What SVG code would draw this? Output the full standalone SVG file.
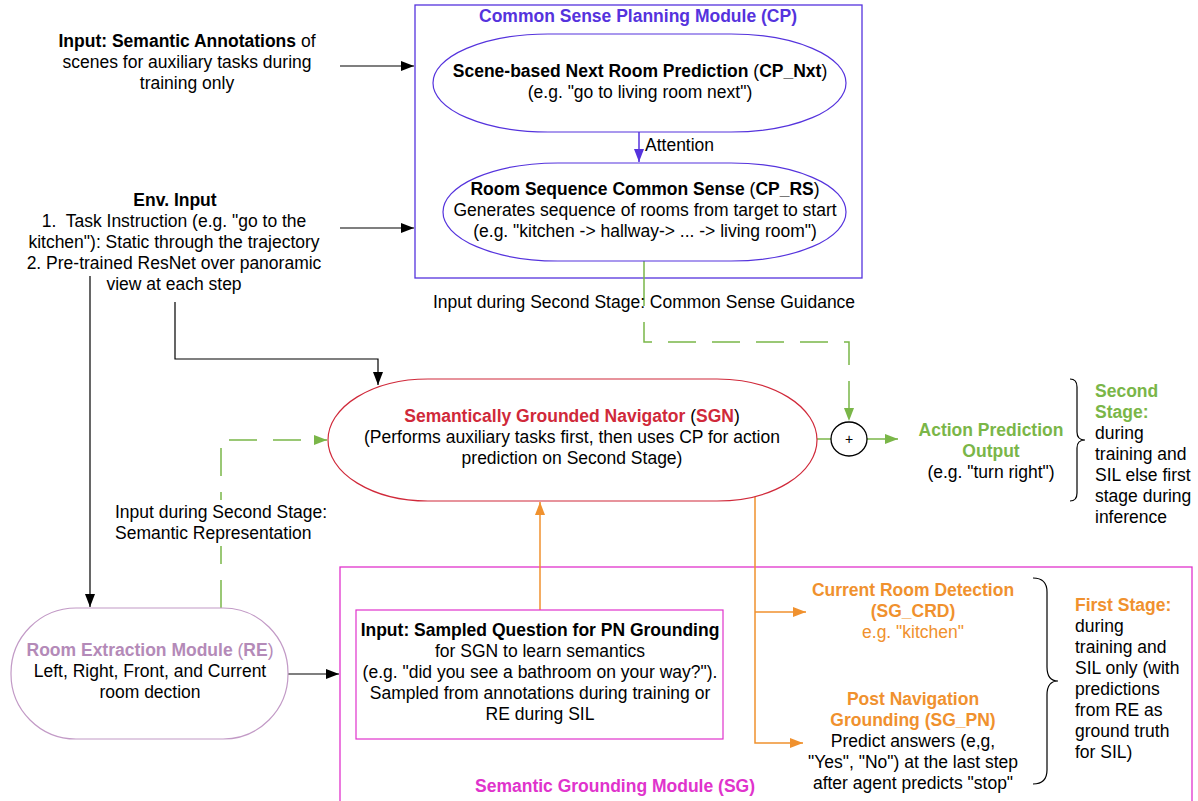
<svg xmlns="http://www.w3.org/2000/svg" width="1198" height="801" viewBox="0 0 1198 801">
<style>
text{font-family:"Liberation Sans",Arial,sans-serif;font-size:17.5px;fill:#000}
.c{text-anchor:middle}
.b{font-weight:bold}
.blue{fill:#5533dd}
.red{fill:#d0293a}
.green{fill:#7ab648}
.orange{fill:#f0912e}
.mag{fill:#e033cc}
.purp{fill:#b48ab8}
.k{stroke:#000;stroke-width:1.2;fill:none}
.g{stroke:#7ab648;stroke-width:1.5;fill:none}
.gd{stroke:#7ab648;stroke-width:1.5;fill:none;stroke-dasharray:28 16}
.o{stroke:#f0912e;stroke-width:1.5;fill:none}
</style>
<defs>
<marker id="ak" markerUnits="userSpaceOnUse" markerWidth="14" markerHeight="10" refX="13" refY="5" orient="auto"><path d="M0,0 L13,5 L0,10 Z" fill="#000"/></marker>
<marker id="ag" markerUnits="userSpaceOnUse" markerWidth="14" markerHeight="10" refX="13" refY="5" orient="auto"><path d="M0,0 L13,5 L0,10 Z" fill="#7ab648"/></marker>
<marker id="ao" markerUnits="userSpaceOnUse" markerWidth="14" markerHeight="10" refX="13" refY="5" orient="auto"><path d="M0,0 L13,5 L0,10 Z" fill="#f0912e"/></marker>
<marker id="ab" markerUnits="userSpaceOnUse" markerWidth="14" markerHeight="10" refX="13" refY="5" orient="auto"><path d="M0,0 L13,5 L0,10 Z" fill="#5533dd"/></marker>
</defs>
<rect width="1198" height="801" fill="#fff"/>

<g id="sg-module">
<rect x="340" y="567" width="852" height="250" fill="none" stroke="#e033cc" stroke-width="1.3"/>
<text class="c b mag" x="615" y="792">Semantic Grounding Module (SG)</text>
</g>

<g id="cp-module">
<rect x="415" y="5" width="447" height="273" fill="none" stroke="#5533dd" stroke-width="1.3"/>
<text class="c b blue" x="638" y="22">Common Sense Planning Module (CP)</text>
</g>

<g id="connectors">
<path class="k" d="M340,66 L414,66" marker-end="url(#ak)"/>
<path class="k" d="M340,228 L414,228" marker-end="url(#ak)"/>
<path class="k" d="M90,276 L90,607" marker-end="url(#ak)"/>
<path class="k" d="M175,302 L175,359 L378,359 L378,385" marker-end="url(#ak)"/>
<path class="k" d="M288,674 L339,674" marker-end="url(#ak)"/>
<path stroke="#5533dd" stroke-width="1.5" fill="none" d="M639,132 L639,162" marker-end="url(#ab)"/>
<path class="g" d="M644,261 L644,278"/>
<path class="gd" d="M644,278 L644,342 L849,342 L849,421" marker-end="url(#ag)"/>
<path class="gd" d="M221,608 L221,440 L327,440" marker-end="url(#ag)"/>
<path class="g" d="M817,439 L831,439"/>
<path class="g" d="M867,439 L898,439" marker-end="url(#ag)"/>
<path class="o" d="M540,610 L540,502" marker-end="url(#ao)"/>
<path class="o" d="M755,497 L755,743 L803,743" marker-end="url(#ao)"/>
<path class="o" d="M755,612 L806,612" marker-end="url(#ao)"/>
</g>

<g id="annotations-input">
<text class="c" x="187" y="47"><tspan class="b">Input: Semantic Annotations</tspan> of</text>
<text class="c" x="187" y="68">scenes for auxiliary tasks during</text>
<text class="c" x="187" y="89">training only</text>
</g>

<g id="env-input">
<text class="c b" x="175" y="206">Env. Input</text>
<text class="c" x="174" y="227">1.&#160; Task Instruction (e.g. "go to the</text>
<text class="c" x="174" y="248">kitchen"): Static through the trajectory</text>
<text class="c" x="174" y="269">2. Pre-trained ResNet over panoramic</text>
<text class="c" x="174" y="290">view at each step</text>
</g>

<g id="cp-nxt">
<rect x="433" y="34" width="413" height="98" rx="115" ry="49" fill="#fff" stroke="#5533dd" stroke-width="1.2"/>
<text class="c" x="640" y="77"><tspan class="b">Scene-based Next Room Prediction</tspan> (<tspan class="b">CP_Nxt</tspan>)</text>
<text class="c" x="640" y="98">(e.g. "go to living room next")</text>
</g>

<g id="attention-label">
<text x="645" y="151">Attention</text>
</g>

<g id="cp-rs">
<rect x="443" y="163" width="403" height="98" rx="115" ry="49" fill="#fff" stroke="#5533dd" stroke-width="1.2"/>
<text class="c" x="645" y="195"><tspan class="b">Room Sequence Common Sense</tspan> (<tspan class="b">CP_RS</tspan>)</text>
<text class="c" x="645" y="216">Generates sequence of rooms from target to start</text>
<text class="c" x="645" y="237">(e.g. "kitchen -&gt; hallway-&gt; ... -&gt; living room")</text>
</g>

<g id="cs-guidance-label">
<text class="c" x="644" y="308">Input during Second Stage: Common Sense Guidance</text>
</g>

<g id="sgn">
<rect x="328" y="379" width="489" height="122" rx="100" ry="61" fill="#fff" stroke="#d0293a" stroke-width="1.2"/>
<text class="c" x="572" y="422"><tspan class="b red">Semantically Grounded Navigator</tspan> (<tspan class="b red">SGN</tspan>)</text>
<text class="c" x="572" y="443">(Performs auxiliary tasks first, then uses CP for action</text>
<text class="c" x="572" y="464">prediction on Second Stage)</text>
</g>

<g id="sem-rep-label">
<rect x="112" y="500" width="232" height="46" fill="#fff"/>
<text x="115" y="518">Input during Second Stage:</text>
<text x="115" y="539">Semantic Representation</text>
</g>

<g id="plus">
<ellipse cx="849" cy="439" rx="18" ry="17" fill="#fff" stroke="#000" stroke-width="1.3"/>
<text class="c" x="849" y="444" style="font-size:14px">+</text>
</g>

<g id="action-output">
<text class="c b green" x="991" y="436">Action Prediction</text>
<text class="c b green" x="991" y="457">Output</text>
<text class="c" x="991" y="478">(e.g. "turn right")</text>
</g>

<g id="second-stage">
<path class="k" d="M1070,379 q7,0 7,8 v45 q0,8 8,8 q-8,0 -8,8 v45 q0,8 -7,8"/>
<text class="b green" x="1095" y="397">Second</text>
<text class="b green" x="1095" y="418">Stage:</text>
<text x="1095" y="439">during</text>
<text x="1095" y="460">training and</text>
<text x="1095" y="481">SIL else first</text>
<text x="1095" y="502">stage during</text>
<text x="1095" y="523">inference</text>
</g>

<g id="re">
<rect x="11" y="608" width="277" height="131" rx="65" ry="65" fill="#fff" stroke="#c29ac6" stroke-width="1.2"/>
<text class="c" x="150" y="656"><tspan class="b purp">Room Extraction Module</tspan> <tspan class="purp">(</tspan><tspan class="b purp">RE</tspan><tspan class="purp">)</tspan></text>
<text class="c" x="150" y="677">Left, Right, Front, and Current</text>
<text class="c" x="150" y="698">room dection</text>
</g>

<g id="sampled-question">
<rect x="356" y="610" width="367" height="129" fill="#fff" stroke="#e033cc" stroke-width="1.2"/>
<text class="c b" x="540" y="636">Input: Sampled Question for PN Grounding</text>
<text class="c" x="540" y="657">for SGN to learn semantics</text>
<text class="c" x="540" y="678">(e.g. "did you see a bathroom on your way?").</text>
<text class="c" x="540" y="699">Sampled from annotations during training or</text>
<text class="c" x="540" y="720">RE during SIL</text>
</g>

<g id="sg-crd">
<text class="c b orange" x="913" y="596">Current Room Detection</text>
<text class="c b orange" x="913" y="617">(SG_CRD)</text>
<text class="c orange" x="913" y="638">e.g. "kitchen"</text>
</g>

<g id="sg-pn">
<text class="c b orange" x="913" y="705">Post Navigation</text>
<text class="c b orange" x="913" y="726">Grounding (SG_PN)</text>
<text class="c" x="913" y="747">Predict answers (e,g,</text>
<text class="c" x="913" y="768">"Yes", "No") at the last step</text>
<text class="c" x="913" y="789">after agent predicts "stop"</text>
</g>

<g id="first-stage">
<path class="k" d="M1033,578 q14,0 14,14 v75 q0,14 11,14 q-11,0 -11,14 v75 q0,14 -14,14"/>
<text class="b orange" x="1075" y="611">First Stage:</text>
<text x="1075" y="632">during</text>
<text x="1075" y="653">training and</text>
<text x="1075" y="674">SIL only (with</text>
<text x="1075" y="695">predictions</text>
<text x="1075" y="716">from RE as</text>
<text x="1075" y="737">ground truth</text>
<text x="1075" y="758">for SIL)</text>
</g>
</svg>
